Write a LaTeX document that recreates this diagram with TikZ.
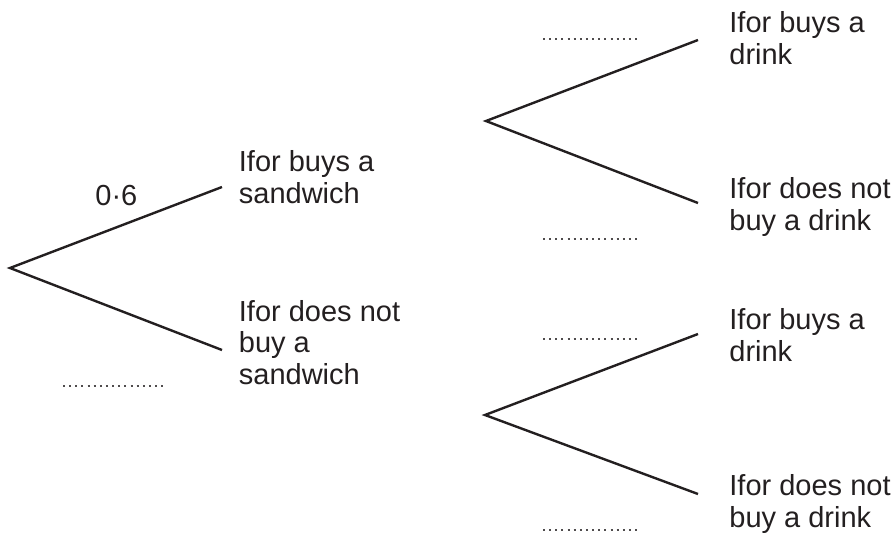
\documentclass[tikz,border=0pt]{standalone}
\usepackage{fontspec}
\setmainfont{Liberation Sans}
\usetikzlibrary{positioning}
\definecolor{ink}{HTML}{231F20}
\tikzset {
    branch/.style = {draw = ink, line width = 1.2pt},
    outcome/.style = {
        inner sep = 0pt, anchor = base west, align = left, text = ink,
        font = \fontsize{14.5pt}{15.7pt}\selectfont
    },
    prob/.style = {outcome},
    blank/.style = {
        draw = ink!80, line width = 1pt,
        dash pattern = on 1pt off 2.07pt
    }
}
\begin{document}
\begin{tikzpicture}[x = 0.5pt, y = -0.5pt]
            \useasboundingbox (0, 0) rectangle (896, 537);
            % first stage: sandwich
            \coordinate (r)  at ( 10, 268);
            \coordinate (sy) at (222, 187);
            \coordinate (sn) at (222, 350);
            \draw [branch] (sy) -- (r) -- (sn);
            \node (psy) [prob] at (95, 205) {0·6};
            \node (lsy) [outcome] at (238.5, 203) {Ifor buys a\\sandwich};
            \node (lsn) [outcome] at (238.5, 384) {Ifor does not\\buy a\\sandwich};
            \coordinate (bsa) at ( 63, 386);
            \coordinate (bsb) at (163, 386);
            \draw [blank] (bsa) -- (bsb);
            % second stage: drink, after a sandwich
            \coordinate (ry)  at (486, 121);
            \coordinate (dyy) at (698,  40);
            \coordinate (dyn) at (698, 203);
            \draw [branch] (dyy) -- (ry) -- (dyn);
            \node (ldyy) [outcome] at (729,  64) {Ifor buys a\\drink};
            \node (ldyn) [outcome] at (729, 230) {Ifor does not\\buy a drink};
            \coordinate (byya) at (543,  39);
            \coordinate (byyb) at (641,  39);
            \coordinate (byna) at (543, 239);
            \coordinate (bynb) at (641, 239);
            \draw [blank] (byya) -- (byyb);
            \draw [blank] (byna) -- (bynb);
            % second stage: drink, no sandwich
            \coordinate (rn)  at (485, 415);
            \coordinate (dny) at (698, 334);
            \coordinate (dnn) at (698, 494);
            \draw [branch] (dny) -- (rn) -- (dnn);
            \node (ldny) [outcome] at (729, 361) {Ifor buys a\\drink};
            \node (ldnn) [outcome] at (729, 527) {Ifor does not\\buy a drink};
            \coordinate (bnya) at (543, 339);
            \coordinate (bnyb) at (641, 339);
            \coordinate (bnna) at (543, 530);
            \coordinate (bnnb) at (641, 530);
            \draw [blank] (bnya) -- (bnyb);
            \draw [blank] (bnna) -- (bnnb);
        \end{tikzpicture}
\end{document}
